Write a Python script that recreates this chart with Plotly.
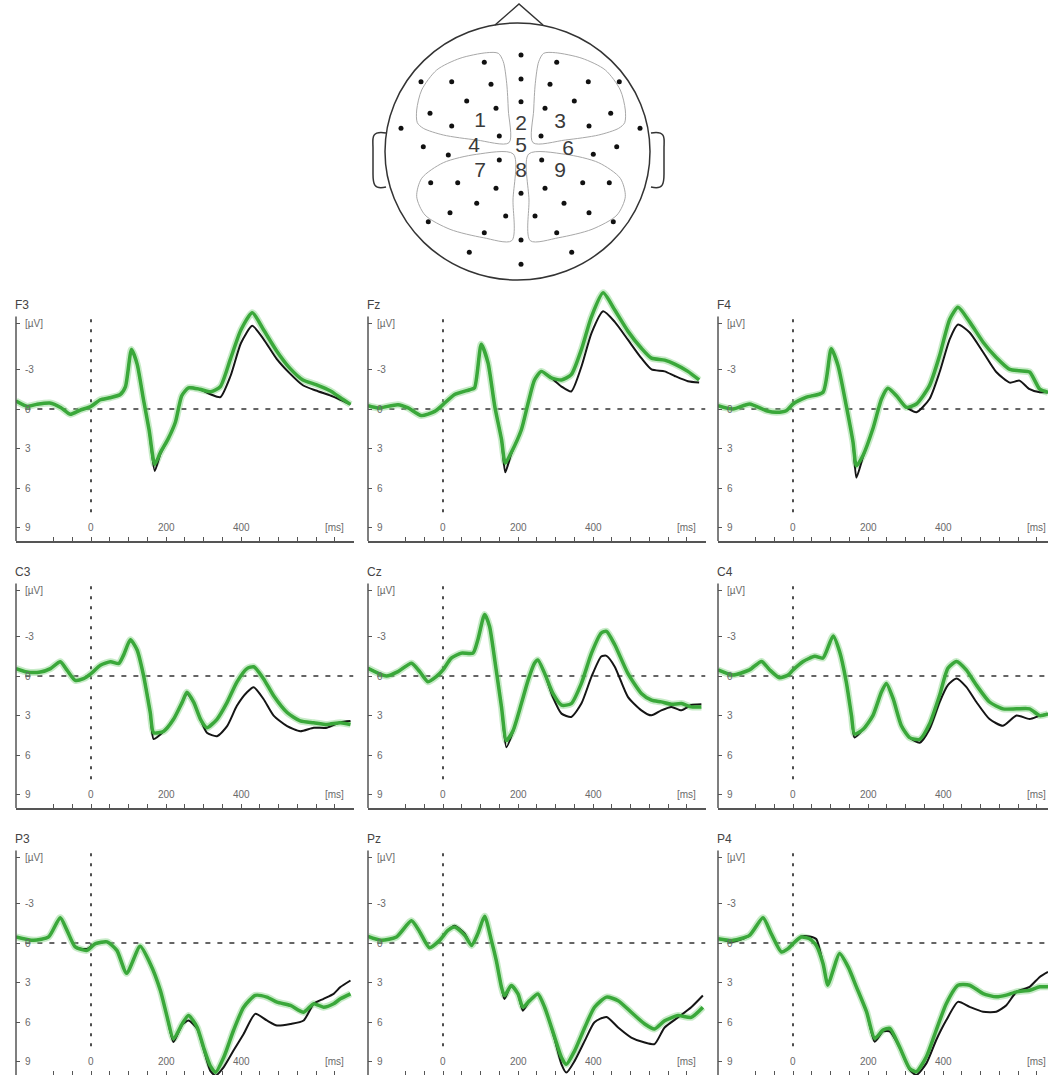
import plotly.graph_objects as go

W, H = 1048, 1075

# ---------------- ERP data (time in ms, amplitude in µV; negative plotted up) ----------------
t_F3 = [-200,-170,-145,-110,-80,-55,-30,0,25,50,78,92,108,123,140,155,170,185,205,225,242,260,290,320,345,372,400,430,460,495,530,565,600,640,665,692]
F3_green = [-0.6,-0.2,-0.35,-0.45,-0.1,0.4,0.1,-0.2,-0.7,-0.85,-1.1,-1.7,-4.5,-3.4,-0.7,1.6,4.2,3.3,2.3,1.0,-1.0,-1.6,-1.5,-1.3,-1.7,-3.8,-6.0,-7.3,-6.0,-4.4,-3.1,-2.2,-1.85,-1.35,-0.85,-0.35]
F3_black = [-0.6,-0.2,-0.35,-0.45,-0.1,0.4,0.1,-0.2,-0.7,-0.85,-1.1,-1.7,-4.5,-3.4,-0.7,1.6,4.7,3.4,2.3,1.0,-1.0,-1.6,-1.5,-1.1,-0.9,-2.5,-5.0,-6.3,-5.3,-3.8,-2.7,-1.8,-1.4,-1.0,-0.7,-0.35]

t_Fz = [-200,-173,-120,-93,-58,-22,0,31,71,84,102,120,138,156,166,182,209,227,244,262,289,316,342,369,396,427,458,493,529,556,591,618,653,683]
Fz_green = [-0.25,-0.08,-0.33,-0.08,0.5,0.18,-0.33,-1.1,-1.46,-1.6,-4.9,-3.5,-0.2,2.3,4.1,3.3,1.57,-0.45,-2.2,-2.85,-2.35,-2.2,-2.6,-4.5,-7.0,-8.8,-7.5,-5.9,-4.6,-3.85,-3.7,-3.4,-2.85,-2.2]
Fz_black = [-0.25,-0.08,-0.33,-0.08,0.5,0.18,-0.33,-1.1,-1.46,-1.6,-4.9,-3.5,-0.2,2.3,4.8,3.4,1.57,-0.45,-2.2,-2.85,-2.35,-1.7,-1.33,-3.2,-5.75,-7.4,-6.6,-5.25,-3.85,-3.0,-2.85,-2.5,-2.1,-2.0]

t_F4 = [-200,-160,-116,-71,-44,-18,0,36,80,102,120,142,160,169,187,213,236,253,276,302,329,364,391,418,440,471,507,542,578,604,631,658,680]
F4_green = [-0.25,0,-0.38,0.13,0.25,0.13,-0.38,-0.9,-1.27,-4.56,-3.3,-0.25,2.5,4.3,3.5,1.5,-0.76,-1.57,-1.0,-0.13,-0.38,-1.77,-4.05,-6.8,-7.7,-6.6,-5.06,-3.9,-3.0,-2.9,-2.8,-1.5,-1.27]
F4_black = [-0.25,0,-0.38,0.13,0.25,0.13,-0.38,-0.9,-1.27,-4.56,-3.3,-0.25,2.5,5.2,3.6,1.5,-0.76,-1.57,-1.0,-0.13,0.25,-0.76,-2.8,-5.3,-6.4,-5.8,-4.3,-2.8,-2.0,-2.15,-1.5,-1.27,-1.27]

t_C3 = [-200,-171,-135,-108,-82,-64,-42,-20,0,25,52,74,87,105,123,140,158,167,194,220,243,256,274,292,309,336,363,389,416,434,460,487,523,558,594,629,665,692]
C3_green = [-0.56,-0.3,-0.3,-0.56,-1.08,-0.44,0.33,0.2,-0.18,-0.82,-1.08,-0.95,-1.6,-2.74,-1.97,-0.05,2.77,4.3,4.18,3.28,2.0,1.23,2.0,3.28,3.92,3.28,2.0,0.46,-0.56,-0.7,0.2,1.5,2.77,3.4,3.54,3.67,3.54,3.67]
C3_black = [-0.56,-0.3,-0.3,-0.56,-1.08,-0.44,0.33,0.2,-0.18,-0.82,-1.08,-0.95,-1.6,-2.74,-1.97,-0.05,2.77,4.77,4.18,3.28,2.0,1.35,2.0,3.28,4.3,4.56,3.8,2.26,1.23,0.85,1.74,3.0,3.8,4.18,3.92,3.92,3.5,3.4]

t_Cz = [-200,-151,-120,-84,-62,-40,-18,0,22,49,80,93,111,124,138,156,169,187,209,227,244,253,271,293,316,342,369,396,422,436,458,493,529,556,582,609,636,662,689]
Cz_green = [-0.59,0,-0.33,-0.97,-0.33,0.43,0.05,-0.46,-1.35,-1.73,-1.73,-2.75,-4.66,-3.77,-1.22,2.34,4.89,4.12,2.09,0.31,-0.97,-1.22,-0.2,1.32,2.21,2.09,0.56,-1.73,-3.26,-3.38,-2.37,-0.2,1.32,1.83,1.96,2.14,2.09,2.34,2.34]
Cz_black = [-0.59,0,-0.33,-0.97,-0.33,0.43,0.05,-0.46,-1.35,-1.73,-1.73,-2.75,-4.66,-3.77,-1.22,2.34,5.4,4.2,2.09,0.31,-0.97,-1.22,-0.2,1.6,2.85,3.1,2.09,0.05,-1.48,-1.53,-0.71,1.58,2.6,2.98,2.6,2.34,2.6,2.2,2.14]

t_C4 = [-200,-160,-116,-84,-62,-36,-13,0,27,58,80,107,124,142,156,164,187,213,236,249,267,289,311,338,364,391,413,436,462,489,524,560,596,631,658,680]
C4_green = [-0.46,-0.08,-0.46,-1.1,-0.46,0.13,-0.08,-0.46,-1.1,-1.49,-1.36,-3.03,-1.87,0.44,3.0,4.4,4.03,3.0,1.2,0.56,1.72,3.77,4.67,4.8,3.64,1.46,-0.59,-1.1,-0.46,0.69,1.97,2.49,2.49,2.49,3.0,2.87]
C4_black = [-0.46,-0.08,-0.46,-1.1,-0.46,0.13,-0.08,-0.46,-1.1,-1.49,-1.36,-3.03,-1.87,0.44,3.0,4.67,4.03,3.0,1.2,0.56,1.72,3.77,4.67,5.05,4.03,1.97,0.69,0.18,0.82,1.97,3.26,3.77,3.0,3.26,3.0,2.87]

t_P3 = [-200,-153,-113,-82,-64,-42,-11,12,43,69,95,131,158,185,203,220,243,260,283,300,318,332,354,380,407,438,469,496,532,567,594,620,647,665,692]
P3_green = [-0.46,-0.2,-0.46,-1.92,-0.96,0.3,0.56,0.05,-0.08,0.56,2.3,0.25,1.57,3.6,5.6,7.27,6.13,5.5,6.38,7.9,9.3,9.8,8.66,6.63,4.86,3.97,4.1,4.48,4.73,5.24,4.6,4.86,4.6,4.23,3.85]
P3_black = [-0.46,-0.2,-0.46,-1.92,-0.96,0.3,0.45,0.05,-0.08,0.56,2.3,0.25,1.57,3.6,5.6,7.5,6.2,5.87,6.5,8.0,9.67,10.05,9.4,8.15,6.89,5.37,5.87,6.25,6.13,5.87,4.6,4.23,3.85,3.34,2.84]

t_Pz = [-200,-164,-124,-84,-62,-36,-9,13,31,58,76,93,111,129,142,156,164,182,200,213,231,253,271,298,316,329,351,378,404,436,467,502,538,564,591,627,662,693]
Pz_green = [-0.5,-0.2,-0.46,-1.68,-0.84,0.36,-0.2,-0.96,-1.22,-0.58,0.18,-0.71,-2.03,-0.2,1.32,3.35,4.0,3.22,3.86,4.87,4.37,3.86,4.87,7.16,8.68,9.19,8.17,6.4,4.87,4.1,4.37,5.25,6.14,6.52,5.89,5.5,5.63,4.87]
Pz_black = [-0.5,-0.2,-0.46,-1.68,-0.84,0.36,-0.2,-0.96,-1.3,-0.7,0.18,-0.71,-2.03,-0.2,1.32,3.35,4.24,3.22,3.86,5.13,4.37,3.86,4.87,7.3,9.19,9.82,8.93,7.41,6.0,5.6,6.4,7.16,7.54,7.66,6.4,5.63,4.87,3.98]

t_P4 = [-200,-160,-116,-80,-58,-31,-13,0,22,44,62,80,93,107,124,147,169,196,218,240,258,284,311,329,356,382,409,440,471,507,542,569,596,631,658,680]
P4_green = [-0.33,-0.2,-0.58,-1.91,-0.7,0.68,0.43,0.05,-0.45,-0.33,0.18,1.56,3.2,2.07,0.8,1.81,3.32,5.2,7.23,6.6,6.47,7.86,9.5,9.75,8.6,6.6,4.58,3.2,3.2,3.83,4.08,3.95,3.7,3.58,3.32,3.32]
P4_black = [-0.33,-0.1,-0.58,-1.91,-0.7,0.68,0.43,0.05,-0.5,-0.5,-0.3,1.56,3.2,2.07,0.8,1.81,3.32,5.2,7.48,6.7,6.7,7.9,9.6,10.0,9.1,7.35,5.84,4.46,4.84,5.21,5.21,4.71,3.7,3.32,2.57,2.19]

channel_names = ["F3", "Fz", "F4", "C3", "Cz", "C4", "P3", "Pz", "P4"]
y_tick_vals = [-6.5, -3, 0, 3, 6, 9]
y_tick_text = ["[µV]", "-3", "0", "3", "6", "9"]
x_tick_vals = [0, 200, 400, 650]
x_tick_text = ["0", "200", "400", "[ms]"]
X_LABEL_ROW = 9  # x tick labels sit on the same line as the "9" y label

# ---------------- Head diagram data (diagram pixel coordinates) ----------------
elec_x = [521,484.3,556.7,421,451.7,491,521,550,588.3,619.3,466.7,521,574.3,430,496,545,610.7,451.7,589,401,640,
          499.3,541,423.3,448.3,593.3,616.7,499.3,541.7,430.7,457.7,496,545,582.7,609.3,521,476.7,564,450,505.7,
          535,589,428.3,613.3,484.3,556.7,521,469.3,571.7,521]
elec_y = [55,62.3,62.3,81.7,81.7,84.3,79,84.3,81.7,81.7,101,101.7,101,113.3,108.3,108.3,113.3,126,126,128.3,128.3,
          136,136,146.7,155,154.3,146.7,160,160,182.7,182.7,188.3,188.3,182.7,182.7,193.3,203.3,203.3,212.7,216,
          216,212.7,221.7,221.7,232.7,232.7,240,252.3,252.3,264.3]
region_labels = ["1", "2", "3", "4", "5", "6", "7", "8", "9"]
label_x = [480, 521, 560, 474, 521, 568, 480, 521, 560]
label_y = [122, 125, 123, 147, 147, 150, 172, 172, 172]
reg1_x = [509,476.7,443.3,423.3,417.3,416.7,421.7,436.7,460,486.7,498.3,503.3,506.7,508.3,509]
reg1_y = [142.7,140,135,128.3,122.7,110,90,70,58.3,52.7,53.3,61.7,83.3,110,142.7]
reg7_x = [513.3,476.7,443.3,421.7,416.7,425,450,483.3,511.7,513,513.3]
reg7_y = [154,154.3,162.7,178.3,196.7,215,229.3,237.7,240.7,200,154]
MIRROR_X = 1042  # vertical symmetry axis of the diagram is at x = 521

# ---------------- Layout geometry ----------------
col_axis_px = [16, 368, 718]
row_zero_px = [409, 676, 943]
PX_PER_MS = 0.375
PX_PER_UV = 13.2
Y_TOP = -9.5
Y_BOT = 10.0

GREEN = "#3aa83a"
HALO = "rgba(130,210,130,0.45)"
BLACK = "#151515"
AXIS = "#555555"
FONT_FAMILY = "Liberation Sans, Arial, sans-serif"
TICKFONT = dict(family=FONT_FAMILY, size=10, color="#6a6a6a")

fig = go.Figure()
shapes = []
annotations = []
layout_axes = {}

series = [
    (t_F3, F3_green, F3_black), (t_Fz, Fz_green, Fz_black), (t_F4, F4_green, F4_black),
    (t_C3, C3_green, C3_black), (t_Cz, Cz_green, Cz_black), (t_C4, C4_green, C4_black),
    (t_P3, P3_green, P3_black), (t_Pz, Pz_green, Pz_black), (t_P4, P4_green, P4_black),
]

for i, (name, (t, g, b)) in enumerate(zip(channel_names, series)):
    r, c = divmod(i, 3)
    n = i + 1
    sfx = "" if n == 1 else str(n)
    ax_px = col_axis_px[c]
    right_px = min(ax_px + 900 * PX_PER_MS, W)
    x_max = -200 + (right_px - ax_px) / PX_PER_MS
    zero = row_zero_px[r]
    top_px = zero + Y_TOP * PX_PER_UV
    bot_px = min(zero + Y_BOT * PX_PER_UV, H)
    y_max = (bot_px - zero) / PX_PER_UV

    layout_axes["xaxis" + sfx] = dict(
        domain=[ax_px / W, right_px / W], range=[-200, x_max], anchor="y" + sfx,
        showline=True, linecolor=AXIS, linewidth=1.5, showgrid=False, zeroline=False,
        tickmode="array", tickvals=x_tick_vals, ticktext=x_tick_text, showticklabels=False,
        ticks="inside", ticklen=4, tickcolor=AXIS, tickwidth=1,
        minor=dict(tickmode="linear", tick0=0, dtick=50, ticks="inside", ticklen=4,
                   tickcolor=AXIS, tickwidth=1, showgrid=False),
        fixedrange=True,
    )
    layout_axes["yaxis" + sfx] = dict(
        domain=[1 - bot_px / H, 1 - top_px / H], range=[y_max, Y_TOP], anchor="x" + sfx,
        showline=False, showgrid=False, zeroline=False,
        tickmode="array", tickvals=y_tick_vals, ticktext=y_tick_text,
        ticks="inside", ticklen=4, tickcolor=AXIS, tickwidth=1,
        ticklabelposition="inside", ticklabelstandoff=4, tickfont=TICKFONT, fixedrange=True,
    )

    xr, yr = "x" + sfx, "y" + sfx
    # y axis line (only from -7 to bottom)
    shapes.append(dict(type="line", xref=xr + " domain", yref=yr, x0=0, x1=0, y0=-7, y1=y_max,
                       line=dict(color=AXIS, width=1.5), layer="above"))
    # dashed zero lines
    shapes.append(dict(type="line", xref=xr, yref=yr, x0=0, x1=0, y0=-6.8, y1=8.3,
                       line=dict(color="#222", width=1.6, dash="3px,7px"), layer="below"))
    shapes.append(dict(type="line", xref=xr, yref=yr, x0=-175, x1=x_max, y0=0, y1=0,
                       line=dict(color="#333", width=1.3, dash="5px,7px"), layer="below"))

    # x tick labels (drawn on the "9" line, as in the source figure)
    for tv, tt in zip(x_tick_vals, x_tick_text):
        annotations.append(dict(xref=xr, yref=yr, x=tv, y=X_LABEL_ROW, text=tt, showarrow=False,
                                xanchor="center", yanchor="middle", font=TICKFONT))

    # channel title
    annotations.append(dict(xref="paper", yref="paper", x=(ax_px - 3) / W, y=1 - (zero - 104) / H,
                            xanchor="left", yanchor="middle", text=name, showarrow=False,
                            font=dict(family=FONT_FAMILY, size=12, color="#444")))

    line_common = dict(shape="spline", smoothing=0.6)
    fig.add_trace(go.Scatter(x=t, y=g, mode="lines", xaxis=xr, yaxis=yr, hoverinfo="skip",
                             line=dict(color=HALO, width=7, **line_common), showlegend=False))
    fig.add_trace(go.Scatter(x=t, y=b, mode="lines", xaxis=xr, yaxis=yr, name=name + " black",
                             line=dict(color=BLACK, width=2, **line_common), showlegend=False))
    fig.add_trace(go.Scatter(x=t, y=g, mode="lines", xaxis=xr, yaxis=yr, name=name + " green",
                             line=dict(color=GREEN, width=3.5, **line_common), showlegend=False))

# ---------------- Head diagram ----------------
HEAD_TOP, HEAD_BOT = 0, 285
layout_axes["xaxis10"] = dict(domain=[360 / W, 680 / W], range=[360, 680], anchor="y10",
                              visible=False, fixedrange=True)
layout_axes["yaxis10"] = dict(domain=[1 - HEAD_BOT / H, 1 - HEAD_TOP / H], range=[HEAD_BOT, HEAD_TOP],
                              anchor="x10", visible=False, fixedrange=True)

region_color = "#a8a8a8"
for rx, ry in [(reg1_x, reg1_y), (reg7_x, reg7_y)]:
    for xs in (rx, [MIRROR_X - v for v in rx]):
        fig.add_trace(go.Scatter(x=xs, y=ry, mode="lines", xaxis="x10", yaxis="y10", hoverinfo="skip",
                                 line=dict(color=region_color, width=1, shape="spline", smoothing=0.8),
                                 showlegend=False))

fig.add_trace(go.Scatter(x=elec_x, y=elec_y, mode="markers", xaxis="x10", yaxis="y10",
                         marker=dict(color="#111", size=5), showlegend=False, name="electrodes"))
fig.add_trace(go.Scatter(x=label_x, y=label_y, mode="text", text=region_labels, xaxis="x10", yaxis="y10",
                         textfont=dict(family=FONT_FAMILY, size=21, color="#3a3a3a"),
                         showlegend=False, hoverinfo="skip"))

head_line = dict(color="#333", width=1.5)
shapes.append(dict(type="circle", xref="x10", yref="y10", x0=385, x1=650, y0=23, y1=280, line=head_line))
shapes.append(dict(type="path", xref="x10", yref="y10", path="M 495 25 L 519 4 L 543 25", line=head_line))
shapes.append(dict(type="path", xref="x10", yref="y10",
                   path="M 386 133 C 370 130 373 140 373 148 L 373 174 C 373 184 374 190 386 187",
                   line=head_line))
shapes.append(dict(type="path", xref="x10", yref="y10",
                   path="M 651 133 C 667 130 664 140 664 148 L 664 174 C 664 184 663 190 651 187",
                   line=head_line))

fig.update_layout(
    width=W, height=H, margin=dict(l=0, r=0, t=0, b=0),
    paper_bgcolor="white", plot_bgcolor="white", showlegend=False,
    shapes=shapes, annotations=annotations, hovermode=False,
    **layout_axes,
)

fig.write_html("out.html")
